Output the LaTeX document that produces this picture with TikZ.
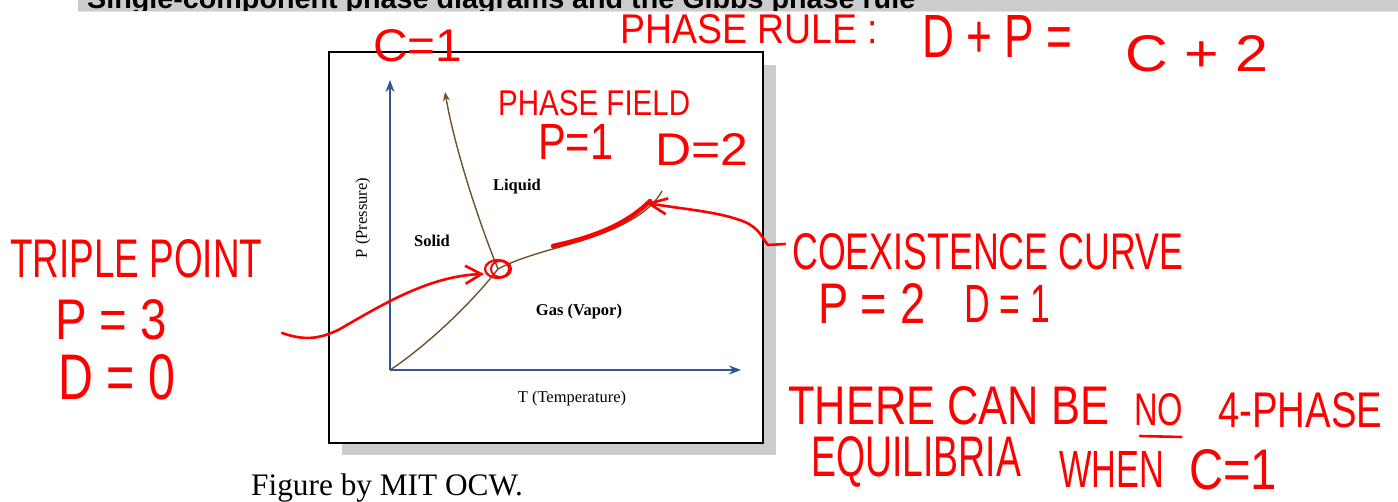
\documentclass[tikz,border=0pt]{standalone}
\usepackage{fontspec}
\setmainfont{Liberation Serif}
\newfontfamily\handfont{Liberation Sans}
\newfontfamily\titlefont{Liberation Sans}
\usetikzlibrary{arrows.meta}
\definecolor{axisblue}{RGB}{47,85,151}
\definecolor{curvebrown}{RGB}{112,82,46}
\definecolor{ink}{RGB}{255,0,0}
\newcommand{\hw}[3]{\resizebox{#1pt}{#2pt}{\handfont #3}}

\begin{document}
\begin{tikzpicture}[x=1pt,y=-1pt,>=Stealth,
 hand/.style={draw=ink,line width=2.6pt,line cap=round,line join=round},
 handtext/.style={anchor=south west,inner sep=0pt,text=ink},
 axislabel/.style={inner sep=0pt,font=\fontsize{16.5}{18}\selectfont},
 phase/.style={inner sep=0pt,font=\fontsize{16.5}{18}\selectfont\bfseries},
 axisline/.style={draw=axisblue,line width=2pt,-{Stealth[length=12pt,width=9pt]}},
 coex/.style={draw=curvebrown,line width=1.4pt}]
\useasboundingbox (0,0) rectangle (1398,502);

\begin{scope}
\clip (78,0) rectangle (1398,11);
\fill[gray!40] (78,0) rectangle (1398,11);
\node[anchor=base west,inner sep=0pt] (title) at (87,9) {\raisebox{0pt}[\height][0pt]{\resizebox{828pt}{!}{\titlefont\bfseries Single-component phase diagrams and the Gibbs phase rule}}};
\end{scope}
\draw[gray!20,line width=1pt] (78,11.5) -- (1398,11.5);

% figure
\fill[gray!40] (342,65) rectangle (776,455);
\draw[line width=2pt,fill=white] (329,52) rectangle (763,443);
\coordinate (org) at (390,370);
\coordinate (ytip) at (390,80);
\coordinate (xtip) at (741,370);
\coordinate (tp) at (498,269);
\coordinate (mtop) at (445,92);
\coordinate (vmid) at (560,247);
\coordinate (vend) at (662,191);
\draw[axisline] (org) -- (ytip);
\draw[axisline] (org) -- (xtip);
\draw[coex] (org) .. controls (425,347) and (470,305) .. (tp);
\draw[coex,-{Stealth[length=9pt,width=7pt]}] (tp) .. controls (480,225) and (455,150) .. (mtop);
\draw[coex] (tp) .. controls (515,260) and (535,254) .. (vmid) .. controls (595,237) and (645,222) .. (vend);
\node[phase] (liquid) at (517,187) {Liquid};
\node[phase] (solid) at (432,241) {Solid};
\node[phase] (gas) at (579,312) {Gas (Vapor)};
\node[axislabel] (tlabel) at (572,399) {T (Temperature)};
\node[axislabel,rotate=90] (plabel) at (363,218) {P (Pressure)};
\node[anchor=base west,inner sep=0pt,font=\fontsize{31.3}{36}\selectfont] (credit) at (251,495) {Figure by MIT OCW.};

% notes
\node[handtext] (rule) at (620,44) {\hw{258}{29}{PHASE RULE :}};
\node[handtext] (ruleL) at (922,58) {\hw{150}{42}{D + P =}};
\node[handtext] (ruleR) at (1125,72) {\hw{143}{36}{C + 2}};
\node[handtext] (comp) at (373,62) {\hw{89}{32}{C=1}};
\node[handtext] (field) at (498,116) {\hw{192}{25}{PHASE FIELD}};
\node[handtext] (fieldP) at (538,160) {\hw{75}{35}{P=1}};
\node[handtext] (fieldD) at (655,166) {\hw{93}{32}{D=2}};
\node[handtext] (triple) at (10,278) {\hw{252}{38}{TRIPLE POINT}};
\node[handtext] (tripleP) at (55,340) {\hw{112}{40}{P = 3}};
\node[handtext] (tripleD) at (58,400) {\hw{117}{45}{D = 0}};
\node[handtext] (curve) at (792,270) {\hw{391}{36}{COEXISTENCE CURVE}};
\node[handtext] (curveP) at (818,324) {\hw{107}{40}{P = 2}};
\node[handtext] (curveD) at (964,323) {\hw{86}{37}{D = 1}};
\node[handtext] (noA) at (788,425) {\hw{321}{38}{THERE CAN BE}};
\node[handtext] (noB) at (1134,426) {\hw{49}{32}{NO}};
\node[handtext] (noC) at (1218,428) {\hw{164}{35}{4-PHASE}};
\node[handtext] (eqA) at (811,488) {\hw{210}{40}{EQUILIBRIA}};
\node[handtext] (eqB) at (1059,488) {\hw{105}{36}{WHEN}};
\node[handtext] (eqC) at (1189,490) {\hw{88}{40}{C=1}};
\draw[hand] ([shift={(6,10)}]noB.south west) -- ([shift={(-2,11)}]noB.south east);

\coordinate (tpA) at (282,333);
\coordinate (tpB) at (484,274);
\coordinate (cvA) at (785,244);
\coordinate (cvB) at (646,203);
\coordinate (hlA) at (553,246);
\coordinate (hlB) at (650,201);
\draw[hand,-{Straight Barb[length=16pt,width=18pt]}] (tpA) .. controls (305,341) and (320,339) .. (340,329) .. controls (385,303) and (430,276) .. (tpB);
\draw[hand,-{Straight Barb[length=18pt,width=16pt]}] (cvA) -- (768,245) .. controls (762,238) and (760,229) .. (745,222) .. controls (720,212) and (690,210) .. (cvB);
\draw[hand,line width=4.5pt] (hlA) .. controls (590,238) and (625,226) .. (hlB);
\draw[hand,line width=2.2pt] (tp) ellipse [x radius=13,y radius=9];
\draw[hand,line width=2pt] ([xshift=2pt]tp) ellipse [x radius=9,y radius=8];
\end{tikzpicture}
\end{document}
